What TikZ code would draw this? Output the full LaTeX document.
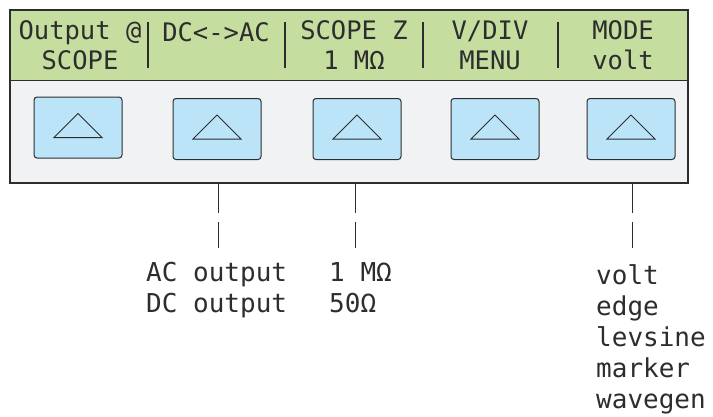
\documentclass[tikz,border=0pt]{standalone}
\usepackage{fontspec}
\setmonofont{DejaVu Sans Mono}
\definecolor{lcdgreen}{RGB}{197,222,160}
\definecolor{panelgray}{RGB}{241,242,244}
\definecolor{keyblue}{RGB}{187,228,248}
\definecolor{ink}{RGB}{45,45,45}
\begin{document}
\begin{tikzpicture}[x=1pt,y=-1pt,
  lcd/.style={font=\ttfamily\fontsize{25.5}{30}\selectfont, text=ink, inner sep=0pt, align=center},
  lbl/.style={font=\ttfamily\fontsize{26}{31}\selectfont, text=ink, inner sep=0pt, align=left, anchor=north west},
  key/.style={draw=ink, line width=1pt, fill=keyblue, rounded corners=3pt, minimum width=88pt, minimum height=61pt, inner sep=0pt},
  sep/.style={draw=ink, line width=2pt},
  lead/.style={draw=ink, line width=0.9pt}]
\useasboundingbox (0,0) rectangle (713,416);
% panel
\fill[panelgray] (10,80) rectangle (688,183);
\fill[lcdgreen] (10,10) rectangle (688,80);
\draw[ink, line width=1pt] (10,80) -- (688,80);
\draw[ink, line width=1.5pt] (10,10) rectangle (688,183);
% separators
\draw[sep] (148,22) -- (148,68);
\draw[sep] (285,22) -- (285,68);
\draw[sep] (423,22) -- (423,68);
\draw[sep] (558,22) -- (558,68);
% LCD labels
\node[lcd] (t1) at (80,45) {Output @\\SCOPE};
\node[lcd] (t2) at (216,32) {DC<->AC};
\node[lcd] (t3) at (354,45) {SCOPE Z\\1 MΩ};
\node[lcd] (t4) at (490,45) {V/DIV\\MENU};
\node[lcd] (t5) at (623,45) {MODE\\volt};
% keys
\foreach \n/\x/\y in {1/78/127.5, 2/217/129, 3/357/129, 4/495/129, 5/631/129}{
  \node[key] (k\n) at (\x,\y) {};
  \draw[ink, line width=1pt] ([xshift=-24pt,yshift=-10pt]k\n.center) -- ([yshift=14pt]k\n.center) -- ([xshift=24pt,yshift=-10pt]k\n.center) -- cycle;
}
% leads
\coordinate (a1) at (218,183); \coordinate (a2) at (218,213);
\coordinate (a3) at (218,222); \coordinate (a4) at (218,248);
\coordinate (b1) at (355,183); \coordinate (b2) at (355,213);
\coordinate (b3) at (355,222); \coordinate (b4) at (355,248);
\coordinate (c1) at (632,183); \coordinate (c2) at (632,213);
\coordinate (c3) at (632,222); \coordinate (c4) at (632,248);
\draw[lead] (a1) -- (a2); \draw[lead] (a3) -- (a4);
\draw[lead] (b1) -- (b2); \draw[lead] (b3) -- (b4);
\draw[lead] (c1) -- (c2); \draw[lead] (c3) -- (c4);
% bottom labels
\node[lbl] (l1) at (146,262) {AC output\\DC output};
\node[lbl] (l2) at (329,262) {1 MΩ\\50Ω};
\node[lbl, font=\ttfamily\fontsize{26}{31}\selectfont] (l3) at (596,264) {volt\\edge\\levsine\\marker\\wavegen};
\end{tikzpicture}
\end{document}
